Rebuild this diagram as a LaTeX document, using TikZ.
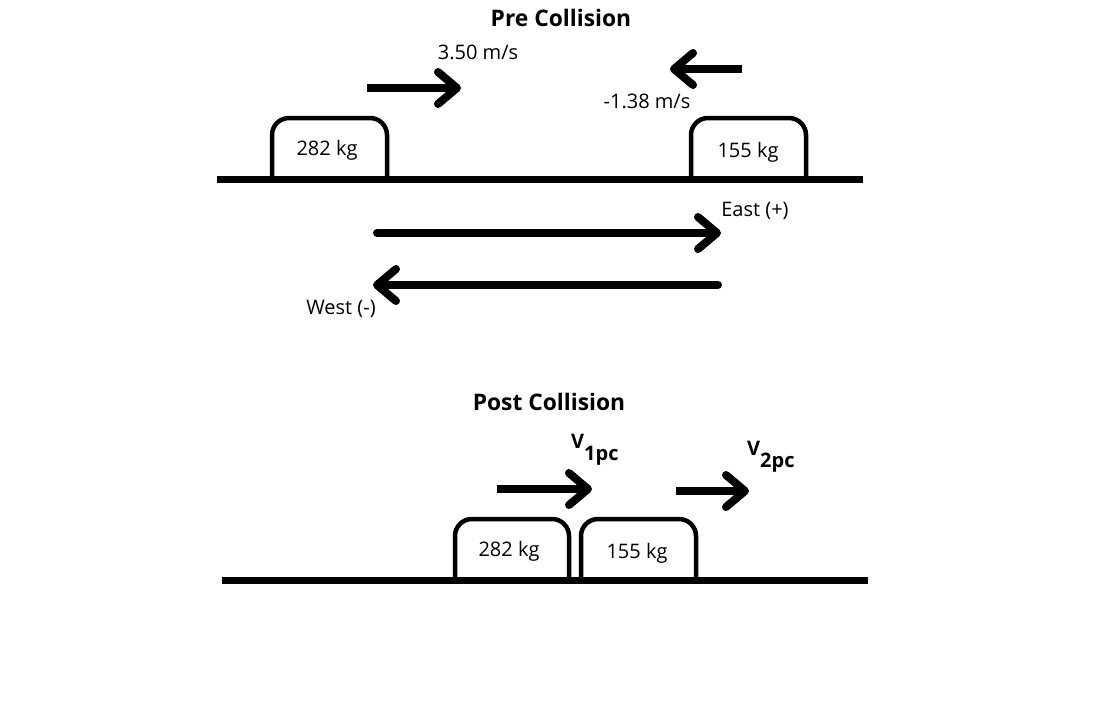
\documentclass[tikz,border=0pt]{standalone}
\usepackage{fontspec}
\setmainfont{Open Sans}
\usetikzlibrary{arrows.meta}
\begin{document}
\begin{tikzpicture}[x=1pt,y=-1pt,
  lbl/.style={font=\fontsize{20}{22}\selectfont, inner sep=0pt},
  ttl/.style={font=\fontsize{22.8}{26}\selectfont\bfseries, inner sep=0pt},
  ground/.style={line width=7pt},
  cart/.style={line width=4.5pt, rounded corners=17pt},
  vec/.style={line width=8pt, line cap=round, line join=round,
    -{Straight Barb[length=19pt, width=32pt, round]}}]
\useasboundingbox (0,0) rectangle (1096,705);
% ---- Pre collision
\node[ttl] (t1) at (561,18) {Pre Collision};
\coordinate (g1a) at (217,179); \coordinate (g1b) at (863,179);
\draw[ground] (g1a) -- (g1b);
\draw[cart] (272,179) -- (272,118) -- (387,118) -- (387,179);
\node[lbl] (m1) at (327,150) {282 kg};
\draw[cart] (691,179) -- (691,118) -- (806,118) -- (806,179);
\node[lbl] (m2) at (748,152) {155 kg};
\coordinate (a1s) at (367,88); \coordinate (a1e) at (461,88);
\draw[vec, line cap=butt] (a1s) -- (a1e);
\node[lbl] (v1) at (478,52) {3.50 m/s};
\coordinate (a2s) at (742,69); \coordinate (a2e) at (670,69);
\draw[vec, line cap=butt] (a2s) -- (a2e);
\node[lbl] (v2) at (647,101) {-1.38 m/s};
\coordinate (es) at (377,233); \coordinate (ee) at (721,233);
\draw[vec] (es) -- (ee);
\node[lbl] (east) at (755,211) {East (+)};
\coordinate (ws) at (718,285); \coordinate (we) at (373,285);
\draw[vec] (ws) -- (we);
\node[lbl] (west) at (341,309) {West (-)};
% ---- Post collision
\node[ttl] (t2) at (549,402) {Post Collision};
\coordinate (g2a) at (222,580); \coordinate (g2b) at (868,580);
\draw[ground] (g2a) -- (g2b);
\draw[cart] (455,580) -- (455,519) -- (569,519) -- (569,580);
\node[lbl] (m3) at (509,551) {282 kg};
\draw[cart] (581,580) -- (581,519) -- (696,519) -- (696,580);
\node[lbl] (m4) at (637,553) {155 kg};
\coordinate (p1s) at (497,489); \coordinate (p1e) at (592,489);
\draw[vec, line cap=butt] (p1s) -- (p1e);
\node[lbl, font=\fontsize{20}{22}\selectfont\bfseries, anchor=base west] (pv1) at (571,448) {V\raisebox{-12pt}{1pc}};
\coordinate (p2s) at (676,491); \coordinate (p2e) at (749,491);
\draw[vec, line cap=butt] (p2s) -- (p2e);
\node[lbl, font=\fontsize{20}{22}\selectfont\bfseries, anchor=base west] (pv2) at (747,455) {V\raisebox{-12pt}{2pc}};
\end{tikzpicture}
\end{document}
